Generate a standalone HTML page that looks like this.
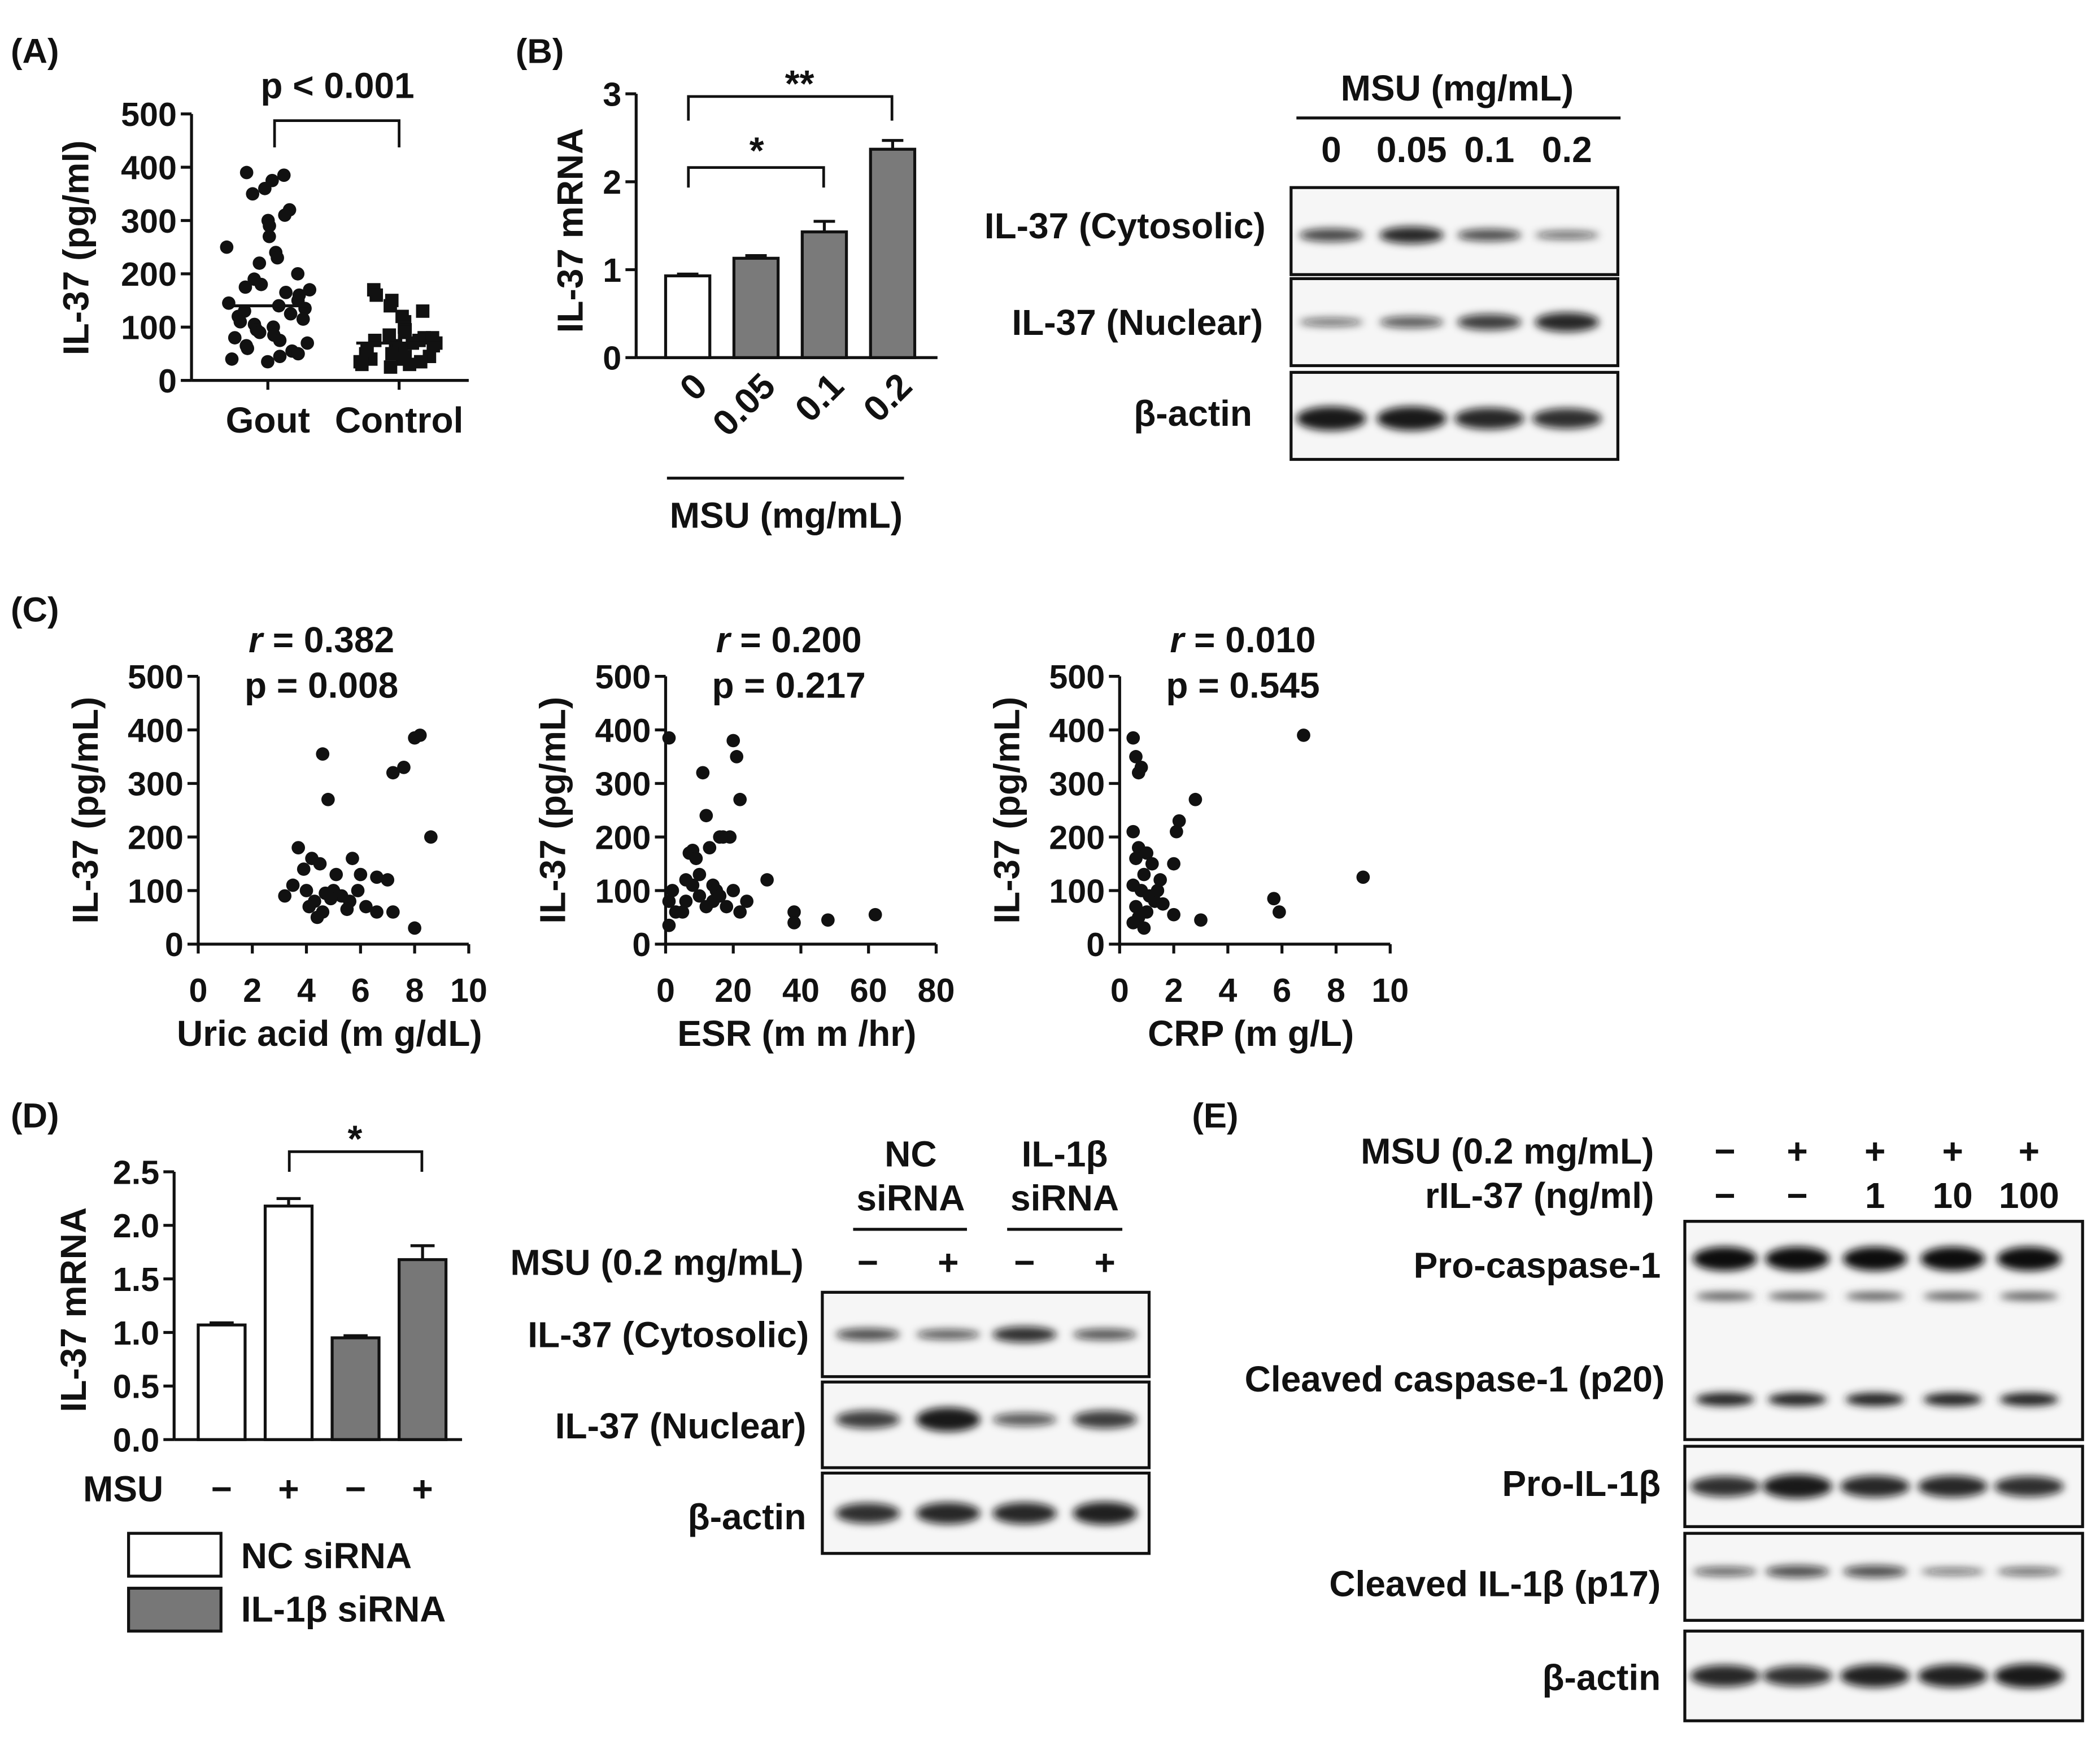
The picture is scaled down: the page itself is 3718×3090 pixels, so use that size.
<!DOCTYPE html>
<html><head><meta charset="utf-8"><style>
html,body{margin:0;padding:0;background:#fff}
svg{display:block}
text{font-family:"Liberation Sans",Arial,sans-serif;font-weight:bold;fill:#111}
</style></head><body>
<svg id="fig" width="3718" height="3090" viewBox="0 0 1568 1303" xmlns="http://www.w3.org/2000/svg">
<defs>
<filter id="blur" x="-50%" y="-200%" width="200%" height="500%"><feGaussianBlur stdDeviation="3"/></filter>
</defs>
<g id="root"></g>
</svg>
<script>
// ---------- DATA ----------
const goutValues=[390,385,375,360,350,320,310,300,290,270,250,240,230,220,200,190,180,175,170,165,160,150,145,140,135,130,125,120,115,110,105,100,95,90,85,80,75,70,65,60,55,50,45,40,35];
const controlValues=[170,160,150,140,130,120,110,100,95,90,85,80,80,75,75,70,70,65,65,60,60,55,55,50,50,45,45,40,40,35,35,30,30,25];
const goutMean=140, controlMean=70;
const msuDoses=["0","0.05","0.1","0.2"];
const msuMrna=[0.93,1.13,1.43,2.37];
const msuErr=[0.02,0.03,0.12,0.1];
const uricX=[4.6,8.2,8,7.6,7.2,8.6,4.8,3.7,4.2,4.5,5.7,5.1,6.6,7.0,3.2,4.0,4.3,4.6,4.4,5.0,5.3,5.6,6.2,6.6,7.2,8.0,3.5,4.9,5.9,4.1,5.5,4.7,6.0,3.9];
const uricY=[355,390,385,330,320,200,270,180,160,150,160,130,125,120,90,100,80,60,50,100,90,80,70,60,60,30,110,85,100,70,65,95,130,140];
const esrX=[1,1,1,2,3,5,6,7,8,9,10,11,12,13,14,15,16,17,19,20,21,22,18,20,22,24,30,38,38,48,62,10,8,12,6,14,16];
const esrY=[385,80,35,100,60,60,80,170,175,160,130,320,240,180,110,100,200,200,200,380,350,270,70,100,60,80,120,60,40,45,55,90,110,70,120,80,90];
const crpX=[0.5,0.6,0.8,0.7,0.5,0.7,1.0,0.6,1.2,0.9,0.5,0.8,1.1,1.3,0.6,1.0,0.7,0.5,1.4,1.6,2.0,2.2,2.1,2.8,2.0,3.0,5.7,5.9,6.8,9.0,1.5,0.9];
const crpY=[385,350,330,320,210,180,170,160,150,130,110,100,90,80,70,60,50,40,100,75,55,230,210,270,150,45,85,60,390,125,120,30];
const dValues=[1.07,2.18,0.95,1.68];
const dErr=[0.02,0.07,0.02,0.13];
const dMsu=["−","+","−","+"];
const dFill=["#fff","#fff","#777","#777"];
const axisTicks500=[0,100,200,300,400,500];
const ticksB=[0,1,2,3];
const ticksD=[0,0.5,1,1.5,2,2.5];

// ---------- HELPERS ----------
const FS=27;
const NS="http://www.w3.org/2000/svg";
const root=document.getElementById('root');
function el(tag,attrs,txt,parent){const e=document.createElementNS(NS,tag);for(const k in attrs)e.setAttribute(k,attrs[k]);if(txt!==undefined)e.textContent=txt;(parent||root).appendChild(e);return e;}
function line(x1,y1,x2,y2,name,w){const e=el('line',{x1,y1,x2,y2,stroke:'#111','stroke-width':w||2.2});return e;}
function txt(x,y,s,name,size,anchor,extra){const e=el('text',Object.assign({x,y,'font-size':size||FS,'text-anchor':anchor||'middle'},extra||{}),s);return e;}
function rect(x,y,w,h,fill,name,sw){const e=el('rect',{x,y,width:w,height:h,fill:fill,stroke:'#111','stroke-width':sw||2.2});return e;}
function dot(cx,cy,name,r){const e=el('circle',{cx,cy,r:r||5,fill:'#111'});return e;}
function jitter(i,seed){const s=Math.sin(i*12.9898+seed*78.233)*43758.5453;return (s-Math.floor(s))-0.5;}

function yAxis(x,yTop,yBot,vmax,ticks,fmt,name){
  const sy=v=>yBot-(v/vmax)*(yBot-yTop);
  line(x,yTop,x,yBot,name+'-y-axis');
  ticks.forEach(t=>{line(x-8,sy(t),x,sy(t),name+'-y-tick');txt(x-11,sy(t)+9,fmt(t),name+'-y-tick-label',25,'end');});
  return sy;
}

// panel labels
txt(8,47,'(A)','panel-label-a',26,'start');
txt(385,47,'(B)','panel-label-b',26,'start');
txt(8,464,'(C)','panel-label-c',26,'start');
txt(8,842,'(D)','panel-label-d',26,'start');
txt(890,842,'(E)','panel-label-e',26,'start');

// ---------- PANEL A ----------
(function(){
  const sy=yAxis(143,85,284,500,axisTicks500,t=>t,'panel-a');
  line(143,284,350,284,'panel-a-x-axis');
  const cats=[200,298];
  ['Gout','Control'].forEach((c,i)=>{line(cats[i],284,cats[i],291,'panel-a-x-tick');txt(cats[i],323,c,'panel-a-x-label');});
  txt(0,0,'IL-37 (pg/ml)','panel-a-y-title',FS,'middle',{transform:'translate(66,185) rotate(-90)'});
  goutValues.forEach((v,i)=>{const off=jitter(i,1)*(v>250?50:64);dot(cats[0]+off,sy(v),'gout-point');});
  controlValues.forEach((v,i)=>{const off=jitter(i,2)*(v>120?40:60);const r=el('rect',{x:cats[1]+off-5,y:sy(v)-5,width:10,height:10,fill:'#111'});});
  line(cats[0]-32,sy(goutMean),cats[0]+32,sy(goutMean),'gout-mean-line');
  line(cats[1]-32,sy(controlMean),cats[1]+32,sy(controlMean),'control-mean-line');
  const b=el('path',{d:`M205 110 V90 H298 V110`,fill:'none',stroke:'#111','stroke-width':2});
  txt(252,73,'p < 0.001','panel-a-pvalue');
})();

// ---------- PANEL B BAR ----------
(function(){
  const sy=yAxis(475,70,267,3,ticksB,t=>t,'panel-b');
  line(475,267,700,267,'panel-b-x-axis');
  txt(0,0,'IL-37 mRNA','panel-b-y-title',FS,'middle',{transform:'translate(435,172) rotate(-90)'});
  const x0=497,step=51,w=33;
  msuMrna.forEach((v,i)=>{
    const x=x0+i*step;
    const e=el('rect',{x,y:sy(v),width:w,height:267-sy(v),fill:i==0?'#fff':'#7a7a7a',stroke:'#111','stroke-width':2.2});
    
    line(x+w/2,sy(v),x+w/2,sy(v+msuErr[i]),'error-bar');
    line(x+w/2-8,sy(v+msuErr[i]),x+w/2+8,sy(v+msuErr[i]),'error-cap');
    txt(0,0,msuDoses[i],'panel-b-x-label',FS,'end',{transform:`translate(${x+w/2+16},${290}) rotate(-45)`});
  });
  const p1=el('path',{d:'M514 140 V125 H615 V140',fill:'none',stroke:'#111','stroke-width':2});
  txt(565,122,'*','sig-star',28);
  const p2=el('path',{d:'M514 90 V72 H666 V90',fill:'none',stroke:'#111','stroke-width':2});
  txt(597,72,'**','sig-double-star',28);
  line(498,357,675,357,'panel-b-x-group-line');
  txt(587,394,'MSU (mg/mL)','panel-b-x-title');
})();

// ---------- BLOT HELPER ----------
function blot(x,y,w,h,lanes,intens,bw,bh,name,dy){
  rect(x,y,w,h,'#f6f6f6',name+'-blot');
  lanes.forEach((lx,i)=>{
    const e=el('ellipse',{cx:lx,cy:y+h/2+(dy||0),rx:bw,ry:bh*intens[i],fill:'#111','fill-opacity':Math.min(1,0.35+intens[i]*0.6),filter:'url(#blur)'});
    
  });
}

// ---------- PANEL B BLOT ----------
txt(1088,75,'MSU (mg/mL)','blot-b-header');
line(968,88,1210,88,'blot-b-header-line');
const bLanes=[994,1054,1112,1170];
['0','0.05','0.1','0.2'].forEach((s,i)=>txt(bLanes[i],121,s,'blot-b-lane-label'));
blot(964,140,244,65,bLanes,[0.7,0.9,0.65,0.45],24,7,'il37-cytosolic-b',3);
blot(964,208,244,65,bLanes,[0.4,0.55,0.75,0.9],24,8,'il37-nuclear-b',0);
blot(964,278,244,65,bLanes,[1,1,0.9,0.85],26,9,'actin-b',2);
txt(945,178,'IL-37 (Cytosolic)','blot-b-row-label',FS,'end');
txt(943,250,'IL-37 (Nuclear)','blot-b-row-label',FS,'end');
txt(935,318,'β-actin','blot-b-row-label',FS,'end');

// ---------- PANEL C ----------
function scatter(ax,xmax,xticks,xs,ys,xtitle,r,p,name){
  const sy=yAxis(ax,505,705,500,axisTicks500,t=>t,name);
  const axLen=202;
  const sx=v=>ax+v/xmax*axLen;
  line(ax,705,ax+axLen,705,name+'-x-axis');
  xticks.forEach(t=>{line(sx(t),705,sx(t),712,name+'-x-tick');txt(sx(t),748,t,name+'-x-tick-label',25);});
  txt(ax+axLen/2-3,781,xtitle,name+'-x-title');
  txt(0,0,'IL-37 (pg/mL)','c-y-title',FS,'middle',{transform:`translate(${ax-75},605) rotate(-90)`});
  const t1=txt(ax+92,487,'','c-r-value');
  el('tspan',{'font-style':'italic'},'r',t1);el('tspan',{},' = '+r,t1);
  txt(ax+92,521,'p = '+p,'c-p-value');
  xs.forEach((v,i)=>dot(sx(v),sy(ys[i]),name+'-point'));
}
scatter(148,10,[0,2,4,6,8,10],uricX,uricY,'Uric acid (m g/dL)','0.382','0.008','uric-acid-scatter');
scatter(497,80,[0,20,40,60,80],esrX,esrY,'ESR (m m /hr)','0.200','0.217','esr-scatter');
scatter(836,10,[0,2,4,6,8,10],crpX,crpY,'CRP (m g/L)','0.010','0.545','crp-scatter');

// ---------- PANEL D BAR ----------
(function(){
  const sy=yAxis(130,875,1075,2.5,ticksD,t=>t.toFixed(1),'panel-d');
  line(130,1075,345,1075,'panel-d-x-axis');
  txt(0,0,'IL-37 mRNA','panel-d-y-title',FS,'middle',{transform:'translate(64,978) rotate(-90)'});
  const x0=148,step=50,w=35;
  dValues.forEach((v,i)=>{
    const x=x0+i*step;
    const e=el('rect',{x,y:sy(v),width:w,height:1075-sy(v),fill:dFill[i],stroke:'#111','stroke-width':2.2});
    
    line(x+w/2,sy(v),x+w/2,sy(v+dErr[i]),'error-bar');
    line(x+w/2-9,sy(v+dErr[i]),x+w/2+9,sy(v+dErr[i]),'error-cap');
    txt(x+w/2,1121,dMsu[i],'msu-sign');
  });
  txt(62,1121,'MSU','msu-row-label',FS,'start');
  const p=el('path',{d:'M216 875 V860 H315 V875',fill:'none',stroke:'#111','stroke-width':2});
  txt(265,860,'*','sig-star-d',28);
  rect(96,1145,69,32,'#fff','legend-nc-swatch');
  txt(180,1171,'NC siRNA','legend-nc-label',FS,'start');
  rect(96,1186,69,32,'#777','legend-il1b-swatch');
  txt(180,1211,'IL-1β siRNA','legend-il1b-label',FS,'start');
})();

// ---------- PANEL D BLOT ----------
txt(680,871,'NC','d-header-nc');txt(680,904,'siRNA','d-header-nc');
txt(795,871,'IL-1β','d-header-il1b');txt(795,904,'siRNA','d-header-il1b');
line(637,918,722,918,'d-header-line');line(752,918,838,918,'d-header-line');
txt(600,952,'MSU (0.2 mg/mL)','d-msu-label',FS,'end');
const dLanes=[648,708,765,825];
['−','+','−','+'].forEach((s,i)=>txt(dLanes[i],952,s,'d-msu-sign'));
blot(614,965,244,63,dLanes,[0.65,0.55,0.85,0.6],24,7,'il37-cytosolic-d',0);
blot(614,1032,244,64,dLanes,[0.75,1,0.55,0.75],24,9,'il37-nuclear-d',-4);
blot(614,1100,244,60,dLanes,[0.85,0.9,0.9,0.95],24,9,'actin-d',0);
txt(604,1006,'IL-37 (Cytosolic)','d-row-label',FS,'end');
txt(602,1074,'IL-37 (Nuclear)','d-row-label',FS,'end');
txt(602,1142,'β-actin','d-row-label',FS,'end');

// ---------- PANEL E BLOT ----------
const eLanes=[1288,1342,1400,1458,1515];
txt(1235,869,'MSU (0.2 mg/mL)','e-msu-label',FS,'end');
txt(1235,902,'rIL-37 (ng/ml)','e-ril37-label',FS,'end');
['−','+','+','+','+'].forEach((s,i)=>txt(eLanes[i],869,s,'e-msu-sign'));
['−','−','1','10','100'].forEach((s,i)=>txt(eLanes[i],902,s,'e-ril37-sign'));
rect(1258,912,297,163,'#f6f6f6','caspase-blot');
eLanes.forEach(lx=>{
  let e=el('ellipse',{cx:lx,cy:940,rx:24,ry:9,fill:'#111',filter:'url(#blur)'});
  e=el('ellipse',{cx:lx,cy:968,rx:22,ry:3,fill:'#555',filter:'url(#blur)'});
  e=el('ellipse',{cx:lx,cy:1045,rx:22,ry:5,fill:'#222',filter:'url(#blur)'});
});
blot(1258,1080,297,60,eLanes,[0.85,1,0.9,0.9,0.85],26,9,'pro-il1b',0);
blot(1258,1145,297,65,eLanes,[0.5,0.65,0.65,0.4,0.45],24,7,'cleaved-il1b',-4);
blot(1258,1218,297,67,eLanes,[0.9,0.85,0.95,0.95,1],26,9,'actin-e',0);
txt(1240,954,'Pro-caspase-1','e-row-label',FS,'end');
txt(1243,1039,'Cleaved caspase-1 (p20)','e-row-label',FS,'end');
txt(1240,1117,'Pro-IL-1β','e-row-label',FS,'end');
txt(1240,1192,'Cleaved IL-1β (p17)','e-row-label',FS,'end');
txt(1240,1262,'β-actin','e-row-label',FS,'end');
</script>
</body></html>
